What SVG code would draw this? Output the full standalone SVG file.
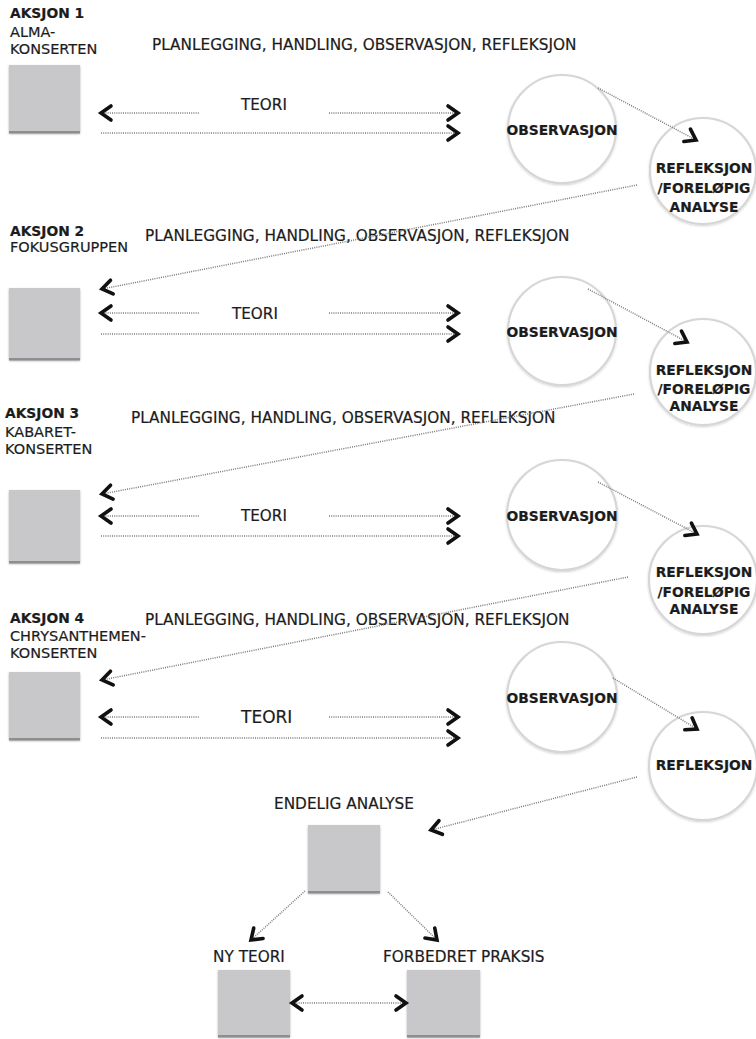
<svg xmlns="http://www.w3.org/2000/svg" width="756" height="1039" viewBox="0 0 756 1039">
  <defs>
    <style>
      text { font-family: "DejaVu Sans", Verdana, sans-serif; fill: #1c1c1c; stroke: #1c1c1c; stroke-width: 0.2; }
      .hd { font-weight: bold; font-size: 13.8px; }
      .lb { font-size: 14.5px; }
      .ph { font-size: 15.3px; }
      .th { font-size: 15.2px; }
      .ct { font-weight: bold; font-size: 13.8px; text-anchor: middle; }
      .box { fill: #c8c8ca; filter: url(#sh); }
      .boxedge { fill: #8e8e90; }
      .ring { fill: #fff; stroke: #d6d6d6; stroke-width: 2.2; filter: url(#sh2); }
      .dot { fill: none; stroke: #7a7a7a; stroke-width: 1.5; stroke-dasharray: 1 1.2; }
    </style>
    <filter id="sh" x="-20%" y="-20%" width="140%" height="140%">
      <feDropShadow dx="0" dy="1" stdDeviation="1" flood-color="#000" flood-opacity="0.3"/>
    </filter>
    <filter id="sh2" x="-20%" y="-20%" width="140%" height="140%">
      <feDropShadow dx="0" dy="1" stdDeviation="1.2" flood-color="#000" flood-opacity="0.18"/>
    </filter>
    <marker id="chev" markerUnits="userSpaceOnUse" orient="auto-start-reverse" overflow="visible" markerWidth="20" markerHeight="20" refX="0" refY="0">
      <path d="M-10,-7 L0,0 L-10,7" fill="none" stroke="#111" stroke-width="3.6" stroke-linecap="round"/>
    </marker>
  </defs>

  <!-- action 1 -->
  <g id="aksjon1">
    <text class="hd" x="10" y="18">AKSJON 1</text>
    <text class="lb" x="10" y="37">ALMA-</text>
    <text class="lb" x="10" y="54">KONSERTEN</text>
    <text class="ph" x="152" y="50">PLANLEGGING, HANDLING, OBSERVASJON, REFLEKSJON</text>
    <rect class="box" x="9" y="65" width="71" height="68"/>
    <rect class="boxedge" x="9" y="131" width="71" height="2.5"/>
    <text class="th" x="241" y="110">TEORI</text>
  </g>
  <g id="obs1">
    <circle class="ring" cx="562" cy="129" r="54"/>
    <text class="ct" x="562" y="135">OBSERVASJON</text>
  </g>
  <g id="ref1">
    <circle class="ring" cx="703" cy="171" r="53"/>
    <text class="ct" x="704" y="173">REFLEKSJON</text>
    <text class="ct" x="704" y="193">/FORELØPIG</text>
    <text class="ct" x="704" y="212">ANALYSE</text>
  </g>

  <!-- action 2 -->
  <g id="aksjon2">
    <text class="hd" x="10" y="236">AKSJON 2</text>
    <text class="lb" x="10" y="252">FOKUSGRUPPEN</text>
    <text class="ph" x="145" y="241">PLANLEGGING, HANDLING, OBSERVASJON, REFLEKSJON</text>
    <rect class="box" x="9" y="288" width="71" height="72"/>
    <rect class="boxedge" x="9" y="358" width="71" height="2.5"/>
    <text class="th" x="232" y="319">TEORI</text>
  </g>
  <g id="obs2">
    <circle class="ring" cx="562" cy="331" r="54"/>
    <text class="ct" x="562" y="337">OBSERVASJON</text>
  </g>
  <g id="ref2">
    <circle class="ring" cx="703" cy="372" r="53"/>
    <text class="ct" x="704" y="375">REFLEKSJON</text>
    <text class="ct" x="704" y="394">/FORELØPIG</text>
    <text class="ct" x="704" y="411">ANALYSE</text>
  </g>

  <!-- action 3 -->
  <g id="aksjon3">
    <text class="hd" x="5" y="418">AKSJON 3</text>
    <text class="lb" x="5" y="437">KABARET-</text>
    <text class="lb" x="5" y="454">KONSERTEN</text>
    <text class="ph" x="131" y="423">PLANLEGGING, HANDLING, OBSERVASJON, REFLEKSJON</text>
    <rect class="box" x="9" y="490" width="71" height="73"/>
    <rect class="boxedge" x="9" y="561" width="71" height="2.5"/>
    <text class="th" x="241" y="521">TEORI</text>
  </g>
  <g id="obs3">
    <circle class="ring" cx="562" cy="515" r="55"/>
    <text class="ct" x="562" y="521">OBSERVASJON</text>
  </g>
  <g id="ref3">
    <circle class="ring" cx="703" cy="580" r="54"/>
    <text class="ct" x="704" y="577">REFLEKSJON</text>
    <text class="ct" x="704" y="597">/FORELØPIG</text>
    <text class="ct" x="704" y="614">ANALYSE</text>
  </g>

  <!-- action 4 -->
  <g id="aksjon4">
    <text class="hd" x="10" y="623">AKSJON 4</text>
    <text class="lb" x="10" y="641">CHRYSANTHEMEN-</text>
    <text class="lb" x="10" y="658">KONSERTEN</text>
    <text class="ph" x="145" y="625">PLANLEGGING, HANDLING, OBSERVASJON, REFLEKSJON</text>
    <rect class="box" x="9" y="672" width="71" height="68"/>
    <rect class="boxedge" x="9" y="738" width="71" height="2.5"/>
    <text class="th" x="241" y="723" style="font-size:17px">TEORI</text>
  </g>
  <g id="obs4">
    <circle class="ring" cx="562" cy="697" r="55"/>
    <text class="ct" x="562" y="703">OBSERVASJON</text>
  </g>
  <g id="ref4">
    <circle class="ring" cx="703" cy="766" r="54"/>
    <text class="ct" x="704" y="770">REFLEKSJON</text>
  </g>

  <!-- final analysis and outcomes -->
  <g id="endelig">
    <text class="ph" x="274" y="809">ENDELIG ANALYSE</text>
    <rect class="box" x="308" y="825" width="72" height="68"/>
    <rect class="boxedge" x="308" y="891" width="72" height="2.5"/>
  </g>
  <g id="nyteori">
    <text class="ph" x="213" y="962">NY TEORI</text>
    <rect class="box" x="218" y="970" width="72" height="67"/>
    <rect class="boxedge" x="218" y="1035" width="72" height="2.5"/>
  </g>
  <g id="praksis">
    <text class="ph" x="383" y="962">FORBEDRET PRAKSIS</text>
    <rect class="box" x="407" y="970" width="73" height="67"/>
    <rect class="boxedge" x="407" y="1035" width="73" height="2.5"/>
  </g>

  <!-- connectors -->
  <g id="connectors">
    <!-- action 1 -->
    <line class="dot" x1="101" y1="113" x2="200" y2="113" marker-start="url(#chev)"/>
    <line class="dot" x1="329" y1="113" x2="458" y2="113" marker-end="url(#chev)"/>
    <line class="dot" x1="101" y1="133" x2="458" y2="133" marker-end="url(#chev)"/>
    <line class="dot" x1="598" y1="88" x2="696" y2="140" marker-end="url(#chev)"/>
    <line class="dot" x1="637" y1="185" x2="102" y2="289" marker-end="url(#chev)"/>
    <!-- action 2 -->
    <line class="dot" x1="101" y1="313" x2="200" y2="313" marker-start="url(#chev)"/>
    <line class="dot" x1="329" y1="313" x2="458" y2="313" marker-end="url(#chev)"/>
    <line class="dot" x1="101" y1="334" x2="458" y2="334" marker-end="url(#chev)"/>
    <line class="dot" x1="588" y1="289" x2="687" y2="342" marker-end="url(#chev)"/>
    <line class="dot" x1="634" y1="394" x2="102" y2="494" marker-end="url(#chev)"/>
    <!-- action 3 -->
    <line class="dot" x1="101" y1="516" x2="200" y2="516" marker-start="url(#chev)"/>
    <line class="dot" x1="329" y1="516" x2="458" y2="516" marker-end="url(#chev)"/>
    <line class="dot" x1="101" y1="536" x2="458" y2="536" marker-end="url(#chev)"/>
    <line class="dot" x1="598" y1="482" x2="697" y2="534" marker-end="url(#chev)"/>
    <line class="dot" x1="628" y1="577" x2="102" y2="680" marker-end="url(#chev)"/>
    <!-- action 4 -->
    <line class="dot" x1="101" y1="717" x2="200" y2="717" marker-start="url(#chev)"/>
    <line class="dot" x1="329" y1="717" x2="458" y2="717" marker-end="url(#chev)"/>
    <line class="dot" x1="101" y1="738" x2="458" y2="738" marker-end="url(#chev)"/>
    <line class="dot" x1="613" y1="678" x2="697" y2="729" marker-end="url(#chev)"/>
    <line class="dot" x1="637" y1="777" x2="431" y2="830" marker-end="url(#chev)"/>
    <!-- final analysis -->
    <line class="dot" x1="305" y1="891" x2="251" y2="940" marker-end="url(#chev)"/>
    <line class="dot" x1="388" y1="892" x2="437" y2="940" marker-end="url(#chev)"/>
    <line class="dot" x1="292" y1="1003" x2="406" y2="1003" marker-start="url(#chev)" marker-end="url(#chev)"/>
  </g>
</svg>
